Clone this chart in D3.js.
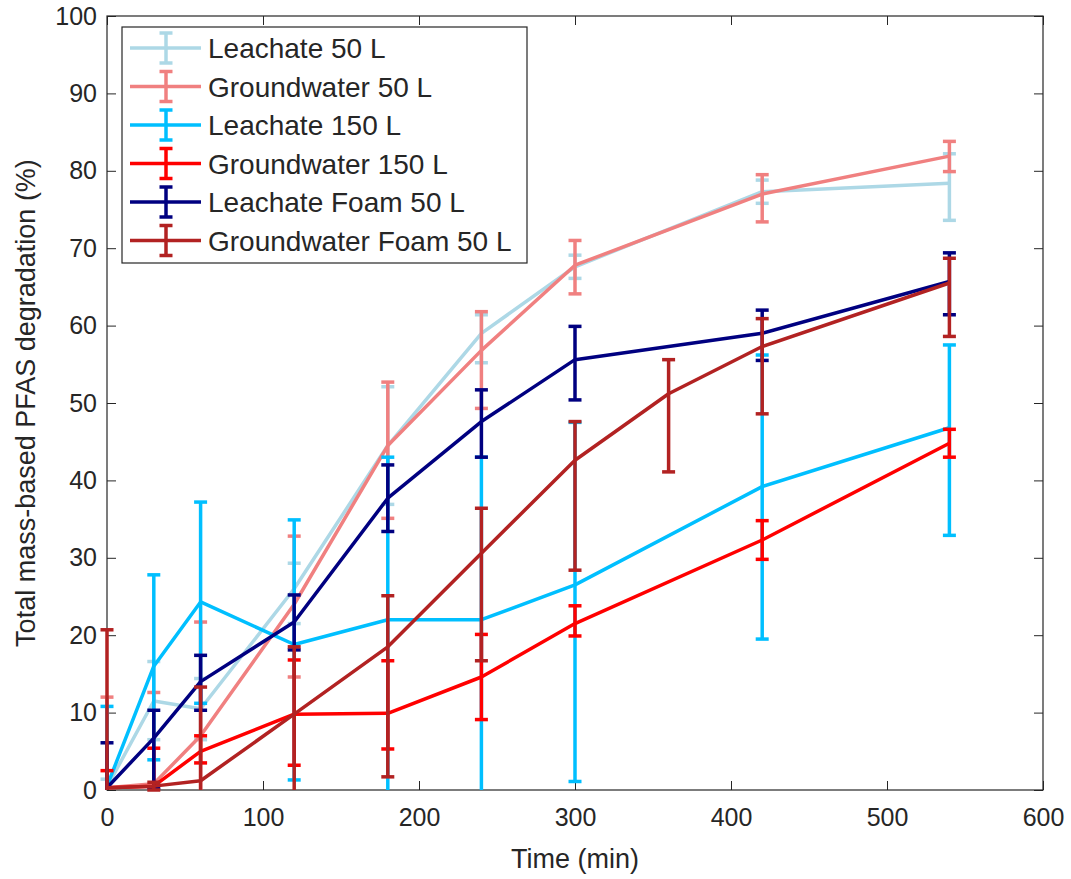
<!DOCTYPE html>
<html>
<head>
<meta charset="utf-8">
<script src="https://cdn.jsdelivr.net/npm/d3@7"></script>
<style>
    body { margin: 0; background: #fff; }
    text { font-family: "Liberation Sans", Arial, sans-serif; fill: #262626; }
</style>
</head>
<body>
<div id="chart"></div>
<script>
// sampling times (min)
var times = [0, 30, 60, 120, 180, 240, 300, 420, 540];
var foamTimes = [0, 30, 60, 120, 180, 240, 300, 360, 420, 540];

var xTicks = [0, 100, 200, 300, 400, 500, 600];
var yTicks = [0, 10, 20, 30, 40, 50, 60, 70, 80, 90, 100];

// degradation (%) with lower / upper error bounds
var leach50 = [0.4, 11.5, 10.5, 26.0, 44.5, 59.0, 67.6, 77.3, 78.4];
var leach50Low = [-0.6, 6.5, 6.5, 21.5, 36.9, 55.2, 66.1, 75.8, 73.6];
var leach50High = [1.4, 16.6, 14.4, 29.3, 52.1, 61.4, 69.1, 78.8, 82.2];

var ground50 = [0.3, 0.8, 7.0, 24.0, 44.5, 56.8, 67.8, 77.0, 81.9];
var ground50Low = [-11.4, -11.0, -7.7, 14.6, 35.1, 49.3, 64.1, 73.4, 79.9];
var ground50High = [12.0, 12.6, 21.7, 32.8, 52.7, 61.8, 71.0, 79.5, 83.8];

var leach150 = [0.5, 16.0, 24.3, 18.8, 22.0, 22.0, 26.5, 39.2, 46.8];
var leach150Low = [-9.8, 3.9, 11.2, 1.3, -1.0, -1.0, 1.1, 19.5, 32.9];
var leach150High = [10.8, 27.8, 37.2, 34.9, 43.0, 43.0, 47.5, 56.2, 57.5];

var ground150 = [0.3, 0.5, 5.0, 9.8, 9.9, 14.6, 21.5, 32.3, 44.8];
var ground150Low = [-1.9, -4.4, 3.5, 3.2, 5.3, 9.1, 19.9, 29.8, 43.0];
var ground150High = [2.5, 5.4, 7.0, 16.8, 16.7, 20.1, 23.8, 34.8, 46.6];

var leachFoam = [0.3, 6.7, 14.0, 21.7, 37.7, 47.6, 55.6, 59.0, 65.7];
var leachFoamLow = [-5.5, 0.3, 10.3, 18.1, 33.4, 43.0, 50.4, 55.5, 61.4];
var leachFoamHigh = [6.1, 10.3, 17.4, 25.2, 42.0, 51.7, 59.9, 62.0, 69.4];

var groundFoam = [0.3, 0.5, 1.2, 9.8, 18.5, 30.6, 42.6, 51.2, 57.3, 65.5];
var groundFoamLow = [-20.1, 0.0, -10.9, -0.5, 1.7, 16.7, 28.4, 41.1, 48.6, 58.6];
var groundFoamHigh = [20.7, 1.0, 13.3, 18.5, 25.1, 36.4, 47.6, 55.6, 60.9, 68.7];

var seriesNames = ['Leachate 50 L', 'Groundwater 50 L', 'Leachate 150 L',
    'Groundwater 150 L', 'Leachate Foam 50 L', 'Groundwater Foam 50 L'];
var seriesColors = ['#add8e6', '#f08080', '#00bfff', '#ff0000', '#000080', '#b22222'];

(function() {
    var series = [
        { t: times, y: leach50, lo: leach50Low, hi: leach50High },
        { t: times, y: ground50, lo: ground50Low, hi: ground50High },
        { t: times, y: leach150, lo: leach150Low, hi: leach150High },
        { t: times, y: ground150, lo: ground150Low, hi: ground150High },
        { t: times, y: leachFoam, lo: leachFoamLow, hi: leachFoamHigh },
        { t: foamTimes, y: groundFoam, lo: groundFoamLow, hi: groundFoamHigh }
    ].map(function(s, i) {
        s.name = seriesNames[i];
        s.color = seriesColors[i];
        s.points = s.t.map(function(t, j) {
            return { t: t, y: s.y[j], lo: s.lo[j], hi: s.hi[j] };
        });
        return s;
    });

    var width = 1071,
        height = 879,
        plotLeft = 107, plotRight = 1043, plotTop = 16, plotBottom = 790,
        axisColor = '#262626';

    var svg = d3.select('#chart').append('svg')
        .attr('width', width)
        .attr('height', height);

    var x = d3.scaleLinear().domain([0, 600]).range([plotLeft, plotRight]);
    var y = d3.scaleLinear().domain([0, 100]).range([plotBottom, plotTop]);

    // clip data at the y limits, but let marks on the x limits show whole
    svg.append('defs').append('clipPath').attr('id', 'plot-clip')
        .append('rect')
        .attr('x', plotLeft - 10).attr('y', plotTop)
        .attr('width', plotRight - plotLeft + 20).attr('height', plotBottom - plotTop + 2);

    // axes: inward ticks on all four sides like a matlab box
    var tickLen = 9;
    var gx = svg.append('g').attr('transform', 'translate(0,' + plotBottom + ')')
        .call(d3.axisBottom(x).tickValues(xTicks).tickSizeInner(-tickLen).tickSizeOuter(0).tickPadding(18));
    var gxTop = svg.append('g').attr('transform', 'translate(0,' + plotTop + ')')
        .call(d3.axisTop(x).tickValues(xTicks).tickSizeInner(-tickLen).tickSizeOuter(0).tickFormat(''));
    var gy = svg.append('g').attr('transform', 'translate(' + plotLeft + ',0)')
        .call(d3.axisLeft(y).tickValues(yTicks).tickSizeInner(-tickLen).tickSizeOuter(0).tickPadding(10));
    var gyRight = svg.append('g').attr('transform', 'translate(' + plotRight + ',0)')
        .call(d3.axisRight(y).tickValues(yTicks).tickSizeInner(-tickLen).tickSizeOuter(0).tickFormat(''));

    [gx, gxTop, gy, gyRight].forEach(function(g) {
        g.select('.domain').remove();
        g.selectAll('.tick line').attr('stroke', axisColor).attr('stroke-width', 1);
        g.selectAll('.tick text')
            .attr('fill', axisColor)
            .style('font-size', '25px')
            .style('font-family', '"Liberation Sans", Arial, sans-serif');
    });

    // box
    svg.append('rect')
        .attr('x', plotLeft).attr('y', plotTop)
        .attr('width', plotRight - plotLeft).attr('height', plotBottom - plotTop)
        .attr('fill', 'none')
        .attr('stroke', axisColor)
        .attr('stroke-width', 1.2);

    var plot = svg.append('g').attr('clip-path', 'url(#plot-clip)');

    var line = d3.line()
        .x(function(d) { return x(d.t); })
        .y(function(d) { return y(d.y); });

    var capHalf = 6.5;

    series.forEach(function(s) {
        var g = plot.append('g');

        g.append('path')
            .datum(s.points)
            .attr('fill', 'none')
            .attr('stroke', s.color)
            .attr('stroke-width', 3.5)
            .attr('stroke-linejoin', 'round')
            .attr('d', line);

        var bars = g.selectAll('g.err')
            .data(s.points)
            .enter().append('g')
            .attr('class', 'err')
            .attr('stroke', s.color)
            .attr('stroke-width', 3.5);

        bars.append('line')
            .attr('x1', function(d) { return x(d.t); })
            .attr('x2', function(d) { return x(d.t); })
            .attr('y1', function(d) { return y(Math.max(d.lo, 0)); })
            .attr('y2', function(d) { return y(d.hi); });

        bars.filter(function(d) { return d.lo >= 0; })
            .append('line')
            .attr('x1', function(d) { return x(d.t) - capHalf; })
            .attr('x2', function(d) { return x(d.t) + capHalf; })
            .attr('y1', function(d) { return y(d.lo); })
            .attr('y2', function(d) { return y(d.lo); });

        bars.append('line')
            .attr('x1', function(d) { return x(d.t) - capHalf; })
            .attr('x2', function(d) { return x(d.t) + capHalf; })
            .attr('y1', function(d) { return y(d.hi); })
            .attr('y2', function(d) { return y(d.hi); });
    });

    // axis labels
    svg.append('text')
        .attr('x', (plotLeft + plotRight) / 2)
        .attr('y', 868)
        .attr('text-anchor', 'middle')
        .style('font-size', '27px')
        .text('Time (min)');

    svg.append('text')
        .attr('transform', 'translate(35,' + ((plotTop + plotBottom) / 2) + ') rotate(-90)')
        .attr('text-anchor', 'middle')
        .style('font-size', '27px')
        .text('Total mass-based PFAS degradation (%)');

    // legend
    var legX = 122, legY = 27, legW = 405, legH = 236, rowH = 38.5;

    var legend = svg.append('g');

    legend.append('rect')
        .attr('x', legX).attr('y', legY)
        .attr('width', legW).attr('height', legH)
        .attr('fill', '#fff')
        .attr('stroke', axisColor)
        .attr('stroke-width', 1.2);

    var rows = legend.selectAll('g.row')
        .data(series)
        .enter().append('g')
        .attr('class', 'row')
        .attr('transform', function(d, i) { return 'translate(0,' + (legY + 21 + i * rowH) + ')'; });

    rows.append('line')
        .attr('x1', 130).attr('x2', 201)
        .attr('y1', 0).attr('y2', 0)
        .attr('stroke', function(d) { return d.color; })
        .attr('stroke-width', 3.5);

    rows.append('line')
        .attr('x1', 166).attr('x2', 166)
        .attr('y1', -15).attr('y2', 15)
        .attr('stroke', function(d) { return d.color; })
        .attr('stroke-width', 3.5);

    rows.append('line')
        .attr('x1', 166 - capHalf).attr('x2', 166 + capHalf)
        .attr('y1', -15).attr('y2', -15)
        .attr('stroke', function(d) { return d.color; })
        .attr('stroke-width', 3.5);

    rows.append('line')
        .attr('x1', 166 - capHalf).attr('x2', 166 + capHalf)
        .attr('y1', 15).attr('y2', 15)
        .attr('stroke', function(d) { return d.color; })
        .attr('stroke-width', 3.5);

    rows.append('text')
        .attr('x', 208)
        .attr('y', 0)
        .attr('dy', '0.36em')
        .style('font-size', '28px')
        .text(function(d) { return d.name; });
})();
</script>
</body>
</html>
